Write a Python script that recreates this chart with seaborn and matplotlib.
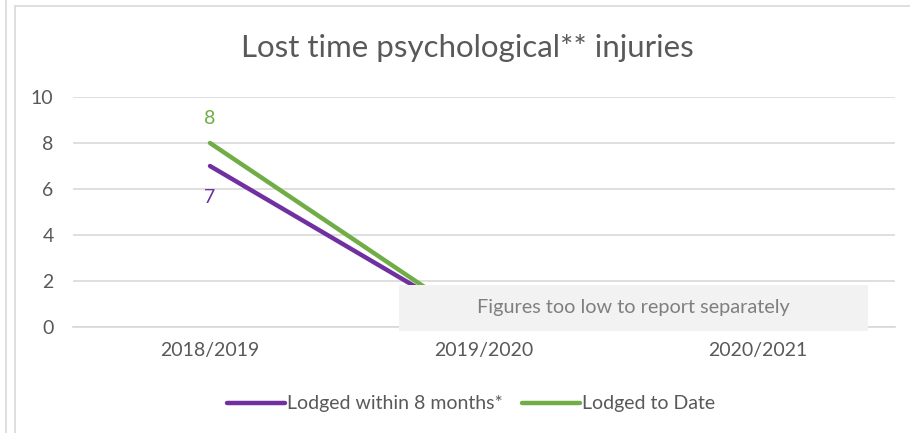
import numpy as np
import pandas as pd
import seaborn as sns
import matplotlib.pyplot as plt
from matplotlib.lines import Line2D
from matplotlib.patches import Rectangle

# Data
years = ["2018/2019", "2019/2020", "2020/2021"]
within_8_months = [7, 0, np.nan]
to_date = [8, 0, np.nan]
series_names = ["Lodged within 8 months*", "Lodged to Date"]
note = "Figures too low to report separately"

purple = "#7030a0"
green = "#70ad47"
grey_text = "#595959"

sns.set_theme(style="white")
plt.rcParams["font.family"] = ["Lato", "DejaVu Sans"]

fig = plt.figure(figsize=(9.1, 4.33), dpi=100)
ax = fig.add_axes([73 / 910, 1 - 327 / 433, 822 / 910, 230 / 433])

x_pos = np.arange(len(years))
df = pd.DataFrame({"pos": x_pos, "within": within_8_months, "todate": to_date})

sns.lineplot(data=df, x="pos", y="within", color=purple, linewidth=3.2,
             solid_capstyle="round", ax=ax)
sns.lineplot(data=df, x="pos", y="todate", color=green, linewidth=3.2,
             solid_capstyle="round", ax=ax)

# data labels
ax.annotate(f"{within_8_months[0]:g}", (x_pos[0], within_8_months[0]), xytext=(0, -23),
            textcoords="offset points", ha="center", va="center", color=purple, fontsize=14)
ax.annotate(f"{to_date[0]:g}", (x_pos[0], to_date[0]), xytext=(0, 18),
            textcoords="offset points", ha="center", va="center", color=green, fontsize=14)

ax.set_xlim(-0.5, len(years) - 0.5)
ax.set_ylim(0, 10)
ax.set_yticks(range(0, 11, 2))
ax.set_xticks(x_pos, years)
ax.yaxis.grid(True, color="#d9d9d9", linewidth=1.2)
ax.set_axisbelow(True)
for s in ax.spines.values():
    s.set_visible(False)
ax.spines["bottom"].set_visible(True)
ax.spines["bottom"].set_color("#d9d9d9")
ax.tick_params(axis="both", length=0, labelsize=14, labelcolor=grey_text)
ax.tick_params(axis="x", pad=11)
ax.tick_params(axis="y", pad=14)
ax.set_xlabel("")
ax.set_ylabel("")

# grey note box over the low values
box = Rectangle((0.69, -0.17), 1.71, 2.0, facecolor="#f2f2f2", edgecolor="none",
                zorder=5, clip_on=False)
ax.add_patch(box)
ax.text(0.69 + 1.71 / 2, 0.83, note, ha="center", va="center", fontsize=14.3,
        color="#7f7f7f", zorder=6)

fig.suptitle("Lost time psychological** injuries", x=467 / 910, y=1 - 48 / 433,
             va="center", fontsize=22.5, color=grey_text)

handles = [Line2D([0], [0], color=purple, lw=3.2, solid_capstyle="round"),
           Line2D([0], [0], color=green, lw=3.2, solid_capstyle="round")]
fig.legend(handles, series_names, loc="center", bbox_to_anchor=(471 / 910, 1 - 404 / 433),
           ncol=2, frameon=False, fontsize=14, handlelength=3.0, handletextpad=0.1,
           columnspacing=1.0, labelcolor=grey_text)

# outer frame lines
frame_col = "#d9d9d9"
fig.add_artist(Line2D([6 / 910, 6 / 910], [0, 1], color=frame_col, lw=1.2))
fig.add_artist(Line2D([15 / 910, 15 / 910], [0, 1 - 6 / 433], color=frame_col, lw=1.2))
fig.add_artist(Line2D([15 / 910, 1], [1 - 6 / 433, 1 - 6 / 433], color=frame_col, lw=1.2))

fig.savefig("out.png", dpi=100)
